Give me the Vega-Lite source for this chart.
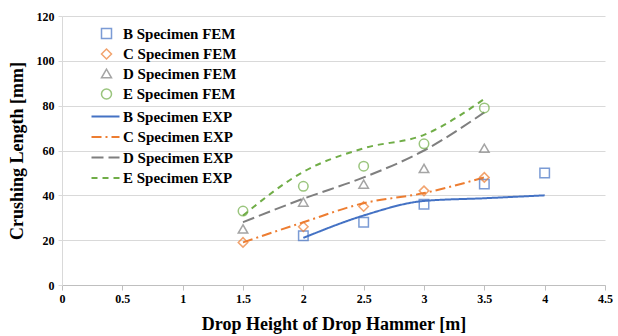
{
  "$schema": "https://vega.github.io/schema/vega-lite/v6.json",
  "width": 543,
  "height": 269,
  "autosize": {"type": "none"},
  "padding": {"left": 62, "top": 16, "right": 13, "bottom": 51},
  "config": {
    "font": "Liberation Serif",
    "view": {"stroke": null},
    "axis": {"labelFont": "Liberation Serif", "titleFont": "Liberation Serif", "labelFontWeight": "bold", "titleFontWeight": "bold", "labelColor": "#000", "titleColor": "#000", "labelFontSize": 12, "titleFontSize": 18}
  },
  "datasets": {
    "fem": [
      {"h": 2, "v": 22, "s": "B Specimen FEM"},
      {"h": 2.5, "v": 28, "s": "B Specimen FEM"},
      {"h": 3, "v": 36, "s": "B Specimen FEM"},
      {"h": 3.5, "v": 45, "s": "B Specimen FEM"},
      {"h": 4, "v": 50, "s": "B Specimen FEM"},
      {"h": 1.5, "v": 19, "s": "C Specimen FEM"},
      {"h": 2, "v": 26, "s": "C Specimen FEM"},
      {"h": 2.5, "v": 35, "s": "C Specimen FEM"},
      {"h": 3, "v": 42, "s": "C Specimen FEM"},
      {"h": 3.5, "v": 48, "s": "C Specimen FEM"},
      {"h": 1.5, "v": 25, "s": "D Specimen FEM"},
      {"h": 2, "v": 37, "s": "D Specimen FEM"},
      {"h": 2.5, "v": 45, "s": "D Specimen FEM"},
      {"h": 3, "v": 52, "s": "D Specimen FEM"},
      {"h": 3.5, "v": 61, "s": "D Specimen FEM"},
      {"h": 1.5, "v": 33, "s": "E Specimen FEM"},
      {"h": 2, "v": 44, "s": "E Specimen FEM"},
      {"h": 2.5, "v": 53, "s": "E Specimen FEM"},
      {"h": 3, "v": 63, "s": "E Specimen FEM"},
      {"h": 3.5, "v": 79, "s": "E Specimen FEM"}
    ],
    "exp": [
      {"h": 2, "v": 21, "s": "B Specimen EXP"},
      {"h": 2.5, "v": 31, "s": "B Specimen EXP"},
      {"h": 3, "v": 37.5, "s": "B Specimen EXP"},
      {"h": 3.5, "v": 38.7, "s": "B Specimen EXP"},
      {"h": 4, "v": 40, "s": "B Specimen EXP"},
      {"h": 1.5, "v": 19, "s": "C Specimen EXP"},
      {"h": 2, "v": 28, "s": "C Specimen EXP"},
      {"h": 2.5, "v": 36.5, "s": "C Specimen EXP"},
      {"h": 3, "v": 41, "s": "C Specimen EXP"},
      {"h": 3.5, "v": 48, "s": "C Specimen EXP"},
      {"h": 1.5, "v": 28, "s": "D Specimen EXP"},
      {"h": 2, "v": 38.5, "s": "D Specimen EXP"},
      {"h": 2.5, "v": 48, "s": "D Specimen EXP"},
      {"h": 3, "v": 60, "s": "D Specimen EXP"},
      {"h": 3.5, "v": 77, "s": "D Specimen EXP"},
      {"h": 1.5, "v": 31, "s": "E Specimen EXP"},
      {"h": 2, "v": 50.5, "s": "E Specimen EXP"},
      {"h": 2.5, "v": 61, "s": "E Specimen EXP"},
      {"h": 3, "v": 67, "s": "E Specimen EXP"},
      {"h": 3.5, "v": 83, "s": "E Specimen EXP"}
    ]
  },
  "encoding": {
    "x": {"field": "h", "type": "quantitative", "title": "Drop Height of Drop Hammer [m]",
      "scale": {"domain": [0, 4.5], "nice": false},
      "axis": {"values": [0, 0.5, 1, 1.5, 2, 2.5, 3, 3.5, 4, 4.5], "format": "~g", "grid": false, "domainColor": "#bfbfbf", "tickColor": "#bfbfbf", "tickSize": 5, "labelPadding": 3, "titlePadding": 11, "labelFlush": false}},
    "y": {"field": "v", "type": "quantitative", "title": "Crushing Length [mm]",
      "scale": {"domain": [0, 120], "nice": false},
      "axis": {"values": [0, 20, 40, 60, 80, 100, 120], "gridColor": "#d9d9d9", "domainColor": "#d9d9d9", "tickColor": "#d9d9d9", "tickSize": 4, "labelPadding": 4, "titlePadding": 10}}
  },
  "layer": [
    {
      "data": {"name": "exp"},
      "mark": {"type": "line", "interpolate": "monotone", "strokeWidth": 2},
      "encoding": {
        "color": {"field": "s", "type": "nominal",
          "scale": {"domain": ["B Specimen EXP", "C Specimen EXP", "D Specimen EXP", "E Specimen EXP"], "range": ["#4472C4", "#ED7D31", "#7F7F7F", "#70AD47"]},
          "legend": {"title": null, "orient": "none", "legendX": 36, "legendY": 93, "labelFont": "Liberation Serif", "labelFontWeight": "bold", "labelFontSize": 15, "labelColor": "#000", "symbolType": "M-2.8,0H2.8", "symbolSize": 100, "symbolStrokeWidth": 2, "rowPadding": 4.5, "labelOffset": 10}},
        "strokeDash": {"field": "s", "type": "nominal",
          "scale": {"domain": ["B Specimen EXP", "C Specimen EXP", "D Specimen EXP", "E Specimen EXP"], "range": [[1, 0], [10, 4, 2, 4], [12, 5], [6, 5]]},
          "legend": {"title": null, "orient": "none", "legendX": 36, "legendY": 93, "symbolType": "M-2.8,0H2.8", "symbolSize": 100}}
      }
    },
    {
      "data": {"name": "fem"},
      "mark": {"type": "point", "filled": false, "strokeWidth": 1.5, "size": 90},
      "encoding": {
        "color": {"field": "s", "type": "nominal",
          "scale": {"domain": ["B Specimen FEM", "C Specimen FEM", "D Specimen FEM", "E Specimen FEM"], "range": ["#4472C4", "#ED7D31", "#7F7F7F", "#70AD47"]},
          "legend": {"title": null, "orient": "none", "legendX": 37, "legendY": 10, "labelFont": "Liberation Serif", "labelFontWeight": "bold", "labelFontSize": 15, "labelColor": "#000", "rowPadding": 3.5, "labelOffset": 9, "symbolStrokeWidth": 1.5}},
        "shape": {"field": "s", "type": "nominal",
          "scale": {"domain": ["B Specimen FEM", "C Specimen FEM", "D Specimen FEM", "E Specimen FEM"], "range": ["square", "diamond", "triangle-up", "circle"]},
          "legend": {"title": null, "orient": "none", "legendX": 37, "legendY": 10}}
      }
    }
  ],
  "resolve": {"scale": {"color": "independent", "shape": "independent", "strokeDash": "independent"}, "legend": {"color": "independent"}}
}
